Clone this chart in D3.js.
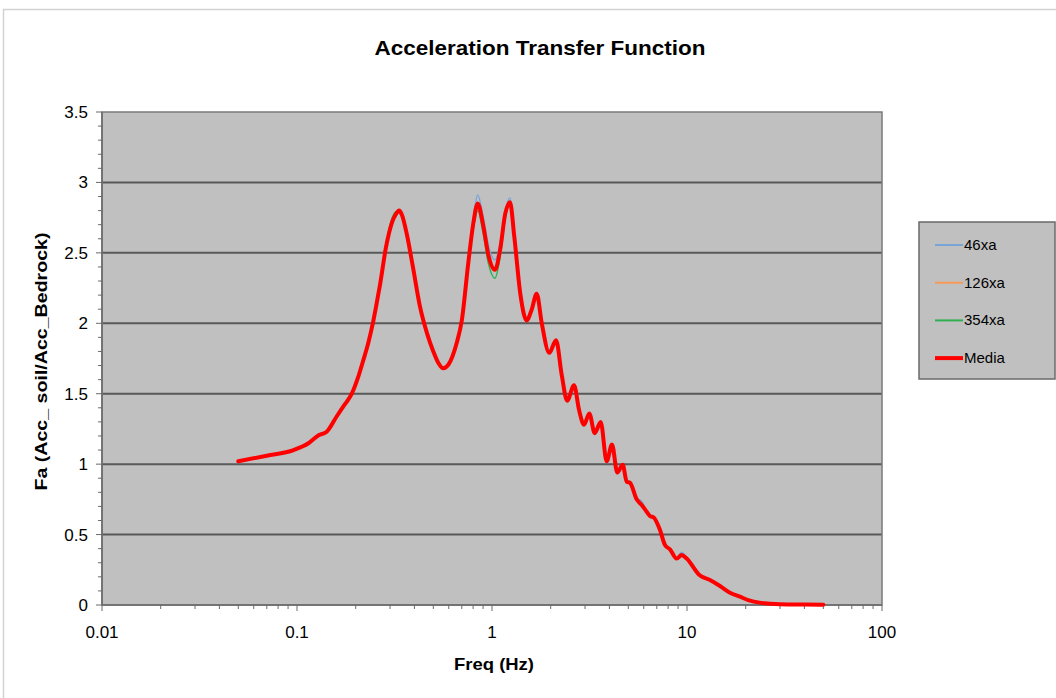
<!DOCTYPE html>
<html>
<head>
<meta charset="utf-8">
<script src="https://cdn.jsdelivr.net/npm/d3@7"></script>
<style>
    body { margin: 0; background: #ffffff; }
    #chart-panel { width: 1056px; height: 698px; }
    text { font-family: "Liberation Sans", Arial, sans-serif; fill: #000; }
</style>
</head>
<body>
<div id="chart-panel"></div>
<script>
// ****************************************************************************
// ******************************** DATOS *************************************
// ****************************************************************************

const freq = [
    0.05, 0.07, 0.096, 0.115, 0.129, 0.142, 0.16, 0.175, 0.191, 0.205,
    0.219, 0.232, 0.244, 0.256, 0.267, 0.286, 0.306, 0.32, 0.334, 0.345,
    0.366, 0.393, 0.427, 0.464, 0.5, 0.53, 0.563, 0.6, 0.659, 0.7,
    0.756, 0.802, 0.845, 0.9, 0.96, 1.036, 1.1, 1.17, 1.237, 1.3,
    1.4, 1.506, 1.6, 1.695, 1.8, 1.967, 2.13, 2.28, 2.43, 2.634,
    2.8, 2.963, 3.155, 3.363, 3.609, 3.873, 4.125, 4.39, 4.68, 4.91,
    5.1, 5.52, 5.86, 6.21, 6.46, 6.77, 7.27, 7.71, 8.18, 8.85,
    9.39, 9.96, 11.57, 13.12, 14.76, 16.62, 18.7, 20.6, 24, 30,
    40, 50
];

const media = [
    1.02, 1.06, 1.10, 1.15, 1.205, 1.23, 1.34, 1.42, 1.50, 1.61,
    1.74, 1.86, 1.99, 2.14, 2.28, 2.54, 2.71, 2.77, 2.80, 2.77,
    2.63, 2.40, 2.12, 1.93, 1.80, 1.72, 1.68, 1.71, 1.86, 2.02,
    2.43, 2.71, 2.85, 2.70, 2.48, 2.38, 2.52, 2.78, 2.86, 2.62,
    2.20, 2.02, 2.10, 2.21, 2.00, 1.79, 1.88, 1.63, 1.45, 1.56,
    1.38, 1.28, 1.36, 1.22, 1.30, 1.02, 1.14, 0.94, 0.995, 0.875,
    0.868, 0.75, 0.71, 0.662, 0.632, 0.62, 0.532, 0.426, 0.395, 0.33,
    0.355, 0.33, 0.213, 0.177, 0.135, 0.087, 0.059, 0.035, 0.015, 0.005,
    0.003, 0.002
];

const xa46 = [
    1.02, 1.06, 1.10, 1.15, 1.205, 1.23, 1.34, 1.42, 1.50, 1.61,
    1.74, 1.86, 1.99, 2.14, 2.28, 2.53, 2.70, 2.76, 2.79, 2.77,
    2.63, 2.40, 2.12, 1.93, 1.80, 1.72, 1.685, 1.71, 1.86, 2.03,
    2.45, 2.75, 2.91, 2.76, 2.55, 2.45, 2.57, 2.80, 2.89, 2.64,
    2.21, 2.02, 2.10, 2.22, 2.00, 1.79, 1.88, 1.63, 1.45, 1.56,
    1.38, 1.28, 1.36, 1.22, 1.30, 1.02, 1.14, 0.94, 0.995, 0.875,
    0.872, 0.76, 0.735, 0.668, 0.64, 0.625, 0.535, 0.43, 0.40, 0.335,
    0.375, 0.335, 0.215, 0.178, 0.135, 0.087, 0.059, 0.035, 0.015, 0.005,
    0.003, 0.002
];

const xa126 = [
    1.02, 1.06, 1.10, 1.15, 1.205, 1.23, 1.34, 1.42, 1.50, 1.61,
    1.74, 1.86, 1.99, 2.14, 2.28, 2.54, 2.70, 2.77, 2.80, 2.77,
    2.63, 2.40, 2.12, 1.93, 1.80, 1.72, 1.68, 1.71, 1.86, 2.02,
    2.43, 2.71, 2.85, 2.70, 2.47, 2.37, 2.52, 2.78, 2.86, 2.62,
    2.20, 2.02, 2.10, 2.21, 2.00, 1.79, 1.88, 1.63, 1.45, 1.56,
    1.38, 1.28, 1.36, 1.22, 1.30, 1.02, 1.14, 0.94, 0.995, 0.875,
    0.866, 0.745, 0.70, 0.66, 0.63, 0.618, 0.53, 0.424, 0.393, 0.328,
    0.345, 0.328, 0.212, 0.177, 0.135, 0.087, 0.059, 0.035, 0.015, 0.005,
    0.003, 0.002
];

const xa354 = [
    1.02, 1.06, 1.10, 1.15, 1.205, 1.23, 1.34, 1.42, 1.50, 1.61,
    1.74, 1.86, 1.99, 2.15, 2.30, 2.56, 2.74, 2.79, 2.79, 2.76,
    2.62, 2.39, 2.11, 1.92, 1.79, 1.71, 1.675, 1.71, 1.86, 2.01,
    2.41, 2.67, 2.80, 2.64, 2.42, 2.32, 2.47, 2.75, 2.84, 2.60,
    2.19, 2.02, 2.10, 2.20, 2.00, 1.79, 1.88, 1.63, 1.45, 1.56,
    1.38, 1.28, 1.36, 1.22, 1.30, 1.02, 1.14, 0.94, 0.995, 0.875,
    0.866, 0.745, 0.70, 0.658, 0.628, 0.617, 0.53, 0.424, 0.392, 0.327,
    0.345, 0.327, 0.212, 0.176, 0.135, 0.087, 0.059, 0.035, 0.015, 0.005,
    0.003, 0.002
];

const series_names = ["46xa", "126xa", "354xa", "Media"];
const series_values = [xa46, xa126, xa354, media];
const series_colors = ["#79a5d6", "#f79a55", "#2fb050", "#ff0000"];
const series_widths = [1.5, 1.5, 1.5, 4];

const x_ticks = [0.01, 0.1, 1, 10, 100];
const x_tick_labels = ["0.01", "0.1", "1", "10", "100"];
const y_ticks = [0, 0.5, 1, 1.5, 2, 2.5, 3, 3.5];
const y_tick_labels = ["0", "0.5", "1", "1.5", "2", "2.5", "3", "3.5"];

// ****************************************************************************
// ******************************* GRAFICO ************************************
// ****************************************************************************

const margin = {top: 112, left: 102, right: 174, bottom: 93};
const width = 1056 - margin.left - margin.right;   // area de ploteo
const height = 698 - margin.top - margin.bottom;

const svg = d3.select("#chart-panel")
    .append("svg")
    .attr("width", 1056)
    .attr("height", 698);

// borde del area del grafico
svg.append("rect")
    .attr("x", 3.5).attr("y", 9.5)
    .attr("width", 1070).attr("height", 700)
    .style("fill", "none")
    .style("stroke", "#d2d2d2")
    .style("stroke-width", 1.5);

svg.append("text")
    .attr("x", 540).attr("y", 55)
    .attr("text-anchor", "middle")
    .attr("textLength", 331)
    .attr("lengthAdjust", "spacingAndGlyphs")
    .style("font-size", "21px")
    .style("font-weight", "bold")
    .text("Acceleration Transfer Function");

const g = svg.append("g")
    .attr("transform", "translate(" + margin.left + "," + margin.top + ")");

const x = d3.scaleLog().domain([0.01, 100]).range([0, width]);
const y = d3.scaleLinear().domain([0, 3.5]).range([height, 0]);

g.append("rect")
    .attr("width", width).attr("height", height)
    .style("fill", "#c0c0c0");

// lineas de rejilla
g.selectAll(".grid")
    .data(y_ticks.filter(d => d > 0 && d < 3.5))
    .enter()
    .append("line")
    .attr("x1", 0).attr("x2", width)
    .attr("y1", d => y(d)).attr("y2", d => y(d))
    .style("stroke", "#595959")
    .style("stroke-width", 2);

g.append("rect")
    .attr("width", width).attr("height", height)
    .style("fill", "none")
    .style("stroke", "#7a7a7a")
    .style("stroke-width", 1.5);

// eje y: marcas menores cada 0.1
const y_minor = d3.range(0, 36).map(i => i / 10);
const y_axis = g.append("g").attr("class", "y-axis");
y_axis.selectAll("line")
    .data(y_minor)
    .enter()
    .append("line")
    .attr("x1", d => (Math.round(d * 10) % 5 === 0) ? -6 : -4)
    .attr("x2", 0)
    .attr("y1", d => y(d)).attr("y2", d => y(d))
    .style("stroke", "#6a6a6a")
    .style("stroke-width", 1);
y_axis.append("line")
    .attr("x1", 0).attr("x2", 0).attr("y1", 0).attr("y2", height)
    .style("stroke", "#6a6a6a").style("stroke-width", 1.5);
y_axis.selectAll("text")
    .data(y_ticks)
    .enter()
    .append("text")
    .attr("x", -14)
    .attr("y", d => y(d) + 6)
    .attr("text-anchor", "end")
    .style("font-size", "17px")
    .text((d, i) => y_tick_labels[i]);

// eje x: marcas menores 2..9 de cada decada
const x_minor = [];
for (var e = -2; e < 2; ++e)
    for (var k = 1; k < 10; ++k) x_minor.push(k * Math.pow(10, e));
x_minor.push(100);
const x_axis = g.append("g")
    .attr("class", "x-axis")
    .attr("transform", "translate(0," + height + ")");
x_axis.selectAll("line")
    .data(x_minor)
    .enter()
    .append("line")
    .attr("x1", d => x(d)).attr("x2", d => x(d))
    .attr("y1", 0)
    .attr("y2", d => x_ticks.some(t => Math.abs(t - d) < 1e-9) ? 6 : 4)
    .style("stroke", "#6a6a6a")
    .style("stroke-width", 1);
x_axis.append("line")
    .attr("x1", 0).attr("x2", width)
    .style("stroke", "#6a6a6a").style("stroke-width", 1.5);
x_axis.selectAll("text")
    .data(x_ticks)
    .enter()
    .append("text")
    .attr("x", d => x(d))
    .attr("y", 33)
    .attr("text-anchor", "middle")
    .style("font-size", "17px")
    .text((d, i) => x_tick_labels[i]);

// titulos de los ejes
svg.append("text")
    .attr("transform", "translate(47," + (margin.top + height / 2 + 3) + ") rotate(-90)")
    .attr("text-anchor", "middle")
    .attr("textLength", 258)
    .attr("lengthAdjust", "spacingAndGlyphs")
    .style("font-size", "17px")
    .style("font-weight", "bold")
    .text("Fa (Acc_ soil/Acc_Bedrock)");

svg.append("text")
    .attr("x", 494).attr("y", 670)
    .attr("text-anchor", "middle")
    .attr("textLength", 80)
    .attr("lengthAdjust", "spacingAndGlyphs")
    .style("font-size", "17px")
    .style("font-weight", "bold")
    .text("Freq (Hz)");

// series
const line = d3.line()
    .x(d => x(d[0]))
    .y(d => y(d[1]))
    .curve(d3.curveMonotoneX);

series_values.forEach(function(vals, i){
    g.append("path")
        .datum(freq.map((f, j) => [f, vals[j]]))
        .attr("d", line)
        .style("fill", "none")
        .style("stroke", series_colors[i])
        .style("stroke-width", series_widths[i])
        .style("stroke-linejoin", "round")
        .style("stroke-linecap", "round");
});

// leyenda
const legend = svg.append("g").attr("transform", "translate(919,222)");
legend.append("rect")
    .attr("width", 136).attr("height", 157)
    .style("fill", "#c0c0c0")
    .style("stroke", "#6a6a6a")
    .style("stroke-width", 1.5);
series_names.forEach(function(name, i){
    const ly = 23 + i * 37.7;
    legend.append("line")
        .attr("x1", 16).attr("x2", 44)
        .attr("y1", ly).attr("y2", ly)
        .style("stroke", series_colors[i])
        .style("stroke-width", series_widths[i] === 4 ? 4 : 2);
    legend.append("text")
        .attr("x", 45).attr("y", ly + 5)
        .style("font-size", "15px")
        .text(name);
});
</script>
</body>
</html>
